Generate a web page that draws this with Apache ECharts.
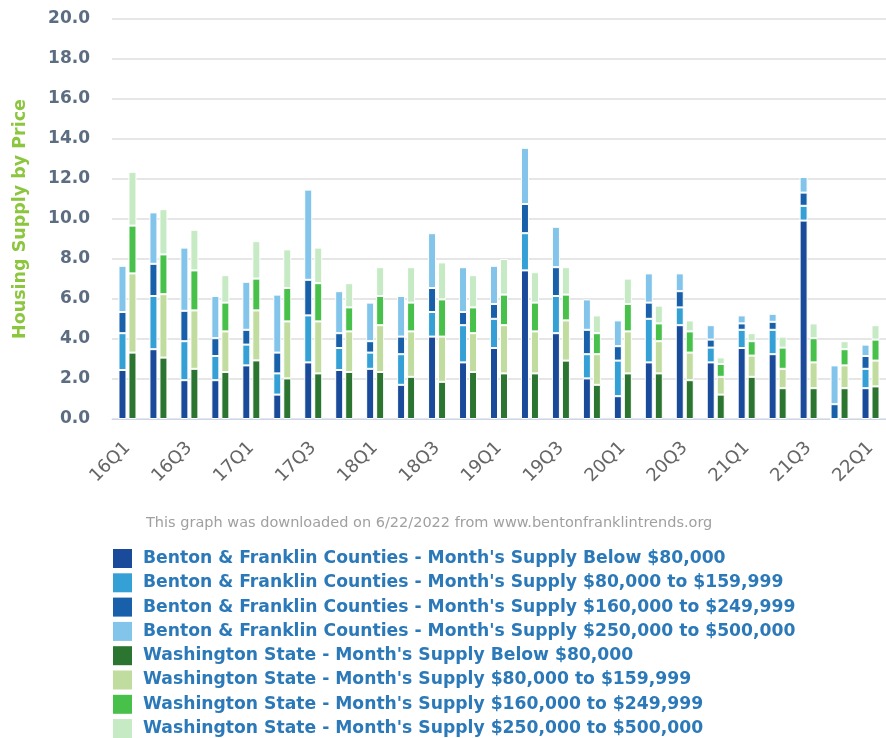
<!DOCTYPE html>
<html>
<head>
<meta charset="utf-8">
<script src="https://cdn.jsdelivr.net/npm/echarts@6/dist/echarts.min.js"></script>
<style>
html,body{margin:0;padding:0;background:#fff;}
#chart{width:886px;height:738px;}
</style>
</head>
<body>
<div id="chart"></div>
<script>
var categories = ['16Q1','16Q2','16Q3','16Q4','17Q1','17Q2','17Q3','17Q4','18Q1','18Q2','18Q3','18Q4','19Q1','19Q2','19Q3','19Q4','20Q1','20Q2','20Q3','20Q4','21Q1','21Q2','21Q3','21Q4','22Q1'];

var bfBelow80  = [2.45,3.49,1.94,1.94,2.68,1.22,2.83,2.45, 2.51,1.71,4.12,2.83,3.55,7.43,4.29,2.03, 1.14,2.83,4.69,2.83,3.55,3.24,9.92,0,1.54];
var bf80to160  = [1.84,2.66,1.95,1.21,1.04,1.06,2.35,1.10, 0.81,1.53,1.23,1.86,1.46,1.86,1.86,1.21, 1.78,2.18,0.89,0.74,0.91,1.22,0.74,0,0.97];
var bf160to250 = [1.06,1.61,1.52,0.89,0.74,1.04,1.78,0.74, 0.57,0.88,1.20,0.66,0.74,1.46,1.44,1.22, 0.72,0.81,0.81,0.40,0.32,0.40,0.66,0.74,0.64];
var bf250to500 = [2.31,2.57,3.16,2.11,2.40,2.90,4.51,2.10, 1.93,2.03,2.74,2.24,1.91,2.81,2.02,1.52, 1.29,1.46,0.89,0.72,0.40,0.40,0.78,1.94,0.57];

var waBelow80  = [3.32,3.07,2.51,2.35,2.93,2.03,2.28,2.35, 2.35,2.11,1.86,2.35,2.28,2.28,2.92,1.71, 2.28,2.28,1.94,1.22,2.11,1.54,1.54,1.54,1.63];
var wa80to160  = [3.96,3.17,2.92,2.03,2.50,2.85,2.60,2.03, 2.34,2.27,2.26,1.94,2.41,2.10,2.01,1.53, 2.10,1.61,1.38,0.89,1.06,0.97,1.29,1.14,1.29];
var wa160to250 = [2.39,1.99,2.00,1.44,1.59,1.67,1.91,1.20, 1.46,1.44,1.86,1.29,1.53,1.44,1.29,1.05, 1.37,0.89,1.06,0.64,0.72,1.06,1.21,0.81,1.05];
var wa250to500 = [2.69,2.26,2.03,1.37,1.87,1.93,1.78,1.21, 1.44,1.77,1.85,1.61,1.78,1.52,1.37,0.89, 1.27,0.89,0.55,0.33,0.40,0.55,0.74,0.40,0.72];

var seriesNames = [
  "Benton & Franklin Counties - Month's Supply Below $80,000",
  "Benton & Franklin Counties - Month's Supply $80,000 to $159,999",
  "Benton & Franklin Counties - Month's Supply $160,000 to $249,999",
  "Benton & Franklin Counties - Month's Supply $250,000 to $500,000",
  "Washington State - Month's Supply Below $80,000",
  "Washington State - Month's Supply $80,000 to $159,999",
  "Washington State - Month's Supply $160,000 to $249,999",
  "Washington State - Month's Supply $250,000 to $500,000"
];
var seriesData = [bfBelow80, bf80to160, bf160to250, bf250to500, waBelow80, wa80to160, wa160to250, wa250to500];
var seriesColors = ['#1a4a9a','#35a0d6','#1860aa','#82c4ea','#2b7530','#c0dc9e','#48c14a','#c5eac4'];
var stacks = ['bf','bf','bf','bf','wa','wa','wa','wa'];

var series = seriesNames.map(function(n,i){
  return {
    name: n, type: 'bar', stack: stacks[i], data: seriesData[i],
    barWidth: 8, barGap: '25%',
    itemStyle: {color: seriesColors[i], borderColor: '#ffffff', borderWidth: 1}
  };
});

var chart = echarts.init(document.getElementById('chart'), null, {renderer:'canvas'});
chart.setOption({
  animation: false,
  backgroundColor: '#ffffff',
  grid: {left: 112, top: 19, right: -8, height: 400, containLabel: false},
  title: {
    text: 'This graph was downloaded on 6/22/2022 from www.bentonfranklintrends.org',
    left: 146, top: 516, padding: 0,
    textStyle: {fontFamily: 'DejaVu Sans', fontSize: 14.5, fontWeight: 'normal', color: '#a0a0a0'}
  },
  legend: {
    orient: 'vertical', left: 113, top: 549, padding: 0, height: 195,
    itemWidth: 19, itemHeight: 19, itemGap: 5.3,
    icon: 'rect',
    itemStyle: {borderWidth: 0},
    data: seriesNames,
    textStyle: {fontFamily: 'DejaVu Sans', fontSize: 17.2, lineHeight: 19, fontWeight: 'bold', color: '#2b79b8', padding: [0,0,0,6]}
  },
  xAxis: {
    type: 'category', data: categories,
    axisLine: {lineStyle: {color: '#ccd6eb'}},
    axisTick: {show: false},
    axisLabel: {rotate: 45, interval: 1, margin: 26, color: '#666666', fontFamily: 'DejaVu Sans', fontSize: 18}
  },
  yAxis: {
    type: 'value', min: 0, max: 20, interval: 2,
    name: 'Housing Supply by Price', nameLocation: 'middle', nameGap: 83,
    nameTextStyle: {color: '#8cc63f', fontFamily: 'DejaVu Sans', fontSize: 17.5, fontWeight: 'bold'},
    axisLine: {show: false}, axisTick: {show: false},
    axisLabel: {margin: 22, color: '#5c6d82', fontFamily: 'DejaVu Sans', fontSize: 17, fontWeight: 'bold',
      formatter: function(v){return v.toFixed(1);}},
    splitLine: {lineStyle: {color: '#e6e6e6', width: 2}}
  },
  series: series
});
</script>
</body>
</html>
